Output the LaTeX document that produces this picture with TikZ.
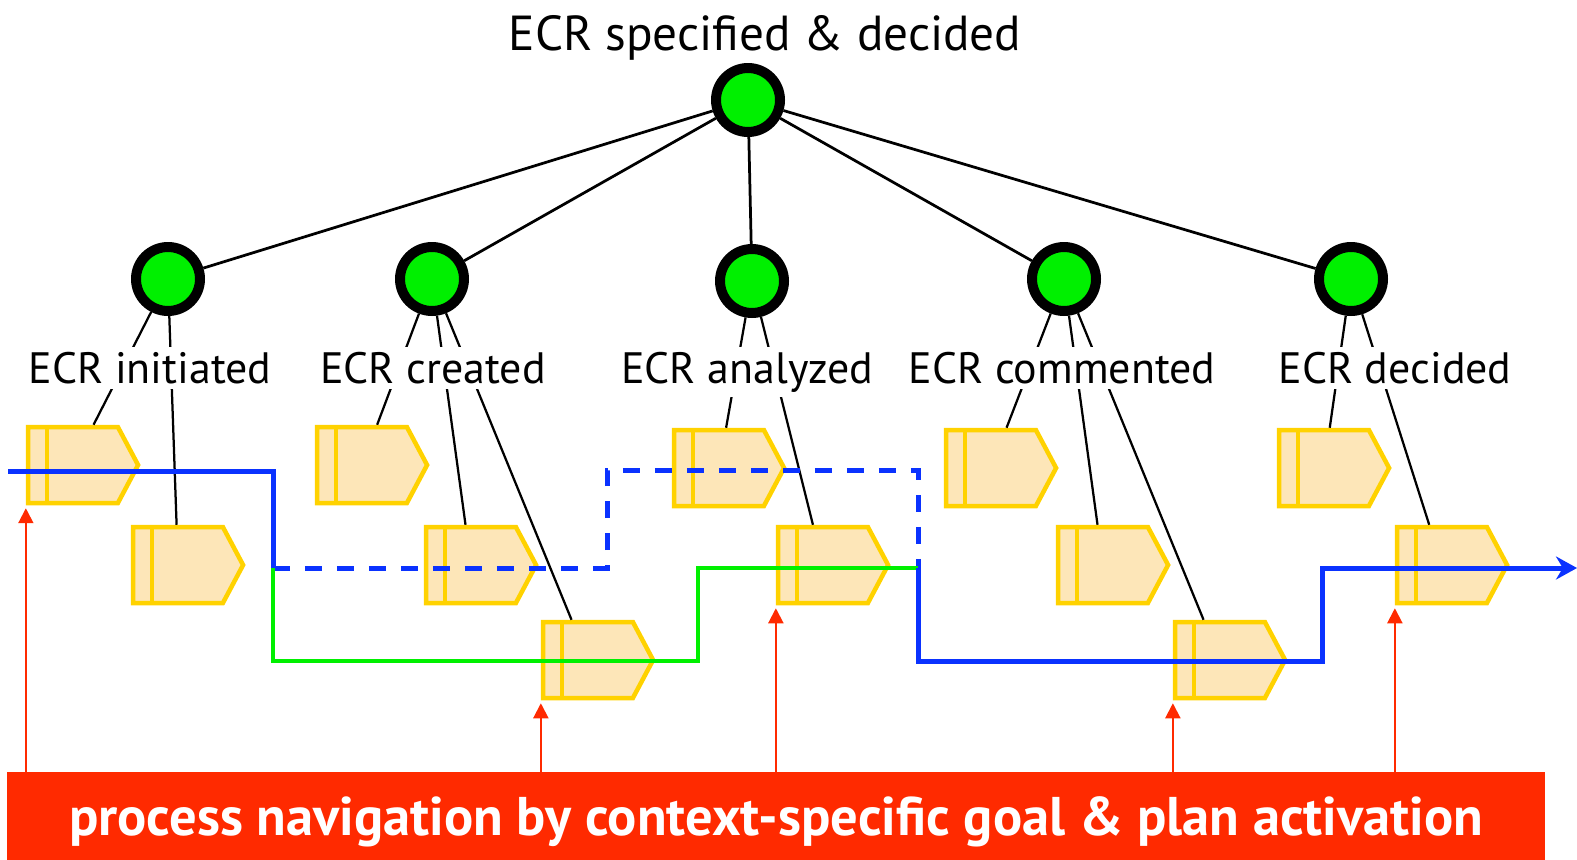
\documentclass[tikz,border=0pt]{standalone}
\usepackage{fontspec}
\setmainfont{PT Sans}
\usetikzlibrary{shapes,arrows.meta,positioning,calc}

\definecolor{goalgreen}{RGB}{0,240,0}
\definecolor{plangold}{RGB}{255,210,0}
\definecolor{planfill}{RGB}{253,230,184}
\definecolor{flowblue}{RGB}{10,50,255}
\definecolor{flowgreen}{RGB}{0,240,0}
\definecolor{navred}{RGB}{255,42,0}

\tikzset{
  goal/.style={circle, draw=black, fill=goalgreen, line width=0.2cm, minimum size=1.28cm, inner sep=0},
  plan/.style={signal, signal to=east, signal pointer angle=124, draw=plangold, fill=planfill,
    line width=0.09cm, minimum width=2.2cm, minimum height=1.52cm, inner sep=0,
    path picture={\draw[plangold, line width=0.09cm]
      ([xshift=0.38cm]path picture bounding box.north west) -- ([xshift=0.38cm]path picture bounding box.south west);}},
  tag/.style={fill=white, anchor=base, inner sep=0.1cm, font=\fontsize{25}{30}\selectfont},
  link/.style={line width=0.055cm},
  sublink/.style={line width=0.045cm},
  flow/.style={draw=flowblue, line width=0.1cm},
  nav/.style={draw=navred, line width=0.04cm, -{Triangle[length=0.3cm, width=0.3cm]}, shorten >=0.06cm}
}

\begin{document}
\begin{tikzpicture}[x=0.02cm, y=-0.02cm]
\useasboundingbox (0,0) rectangle (1577,859);

% goals
\node[goal] (top) at (748,100) {};
\node[anchor=base, font=\fontsize{28}{32}\selectfont] (title) at (765,50) {ECR specified \& decided};
\node[goal] (g1) at (168,279) {};
\node[goal] (g2) at (432,279) {};
\node[goal] (g3) at (752,281) {};
\node[goal] (g4) at (1064,279) {};
\node[goal] (g5) at (1351,279) {};

% plans
\node[plan] (p1) at (73,465) {};
\node[plan] (p2) at (178,565) {};
\node[plan] (p3) at (362,465) {};
\node[plan] (p4) at (471,565) {};
\node[plan] (p5) at (588,660) {};
\node[plan] (p6) at (719,468) {};
\node[plan] (p7) at (823,565) {};
\node[plan] (p8) at (991,468) {};
\node[plan] (p9) at (1103,565) {};
\node[plan] (p10) at (1220,660) {};
\node[plan] (p11) at (1324,468) {};
\node[plan] (p12) at (1442,565) {};

% goal tree
\draw[link] (top) -- (g1);
\draw[link] (top) -- (g2);
\draw[link] (top) -- (g3);
\draw[link] (top) -- (g4);
\draw[link] (top) -- (g5);

\draw[sublink] (g1) -- (p1);
\draw[sublink] (g1) -- (p2);
\draw[sublink] (g2) -- (p3);
\draw[sublink] (g2) -- (p4);
\draw[sublink] (g2) -- (p5);
\draw[sublink] (g3) -- (p6);
\draw[sublink] (g3) -- (p7);
\draw[sublink] (g4) -- (p8);
\draw[sublink] (g4) -- (p9);
\draw[sublink] (g4) -- (p10);
\draw[sublink] (g5) -- (p11);
\draw[sublink] (g5) -- (p12);

% goal labels
\node[tag] (t1) at (150,383) {ECR initiated};
\node[tag] (t2) at (433,383) {ECR created};
\node[tag] (t3) at (747,383) {ECR analyzed};
\node[tag] (t4) at (1062,383) {ECR commented};
\node[tag] (t5) at (1395,383) {ECR decided};

% navigation paths
\coordinate (start) at (8,471);
\coordinate (split) at (273,568);
\coordinate (join) at (918,568);
\coordinate (finish) at (1577,568);

\draw[flow] (start) -| (split);
\draw[flow, dash pattern=on 0.34cm off 0.3cm] (split) -| ++(334,-98) -| (join);
\draw[draw=flowgreen, line width=0.09cm] (split) |- ++(425,93) |- (join);
\draw[flow, -{Stealth[length=0.42cm, width=0.46cm]}] (join) |- ++(404,93) |- (finish);

% activation
\node[fill=navred, text=white, font=\bfseries\fontsize{31}{34}\selectfont,
  minimum width=30.76cm, minimum height=1.75cm, inner sep=0,
  text height=0.76cm, text depth=0cm] (banner) at (776,816)
  {process navigation by context-specific goal \& plan activation};

\draw[nav] (banner.north -| p1.south west) -- (p1.south west);
\draw[nav] (banner.north -| p5.south west) -- (p5.south west);
\draw[nav] (banner.north -| p7.south west) -- (p7.south west);
\draw[nav] (banner.north -| p10.south west) -- (p10.south west);
\draw[nav] (banner.north -| p12.south west) -- (p12.south west);
\end{tikzpicture}
\end{document}
